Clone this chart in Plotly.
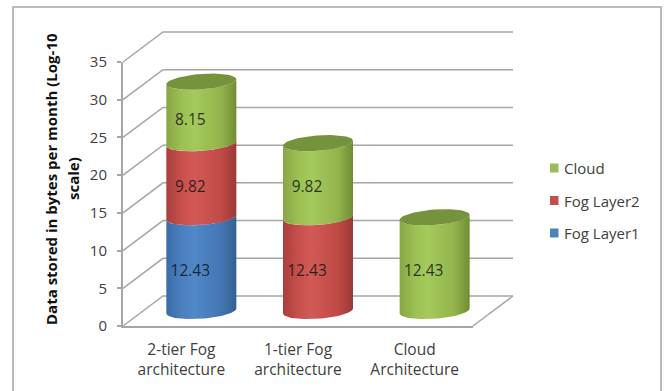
import numpy as np
import plotly.graph_objects as go

# Chart data
categories = ["2-tier Fog<br>architecture", "1-tier Fog<br>architecture", "Cloud<br>Architecture"]
fog_layer1 = [12.43, 0, 0]
fog_layer2 = [9.82, 12.43, 0]
cloud = [8.15, 9.82, 12.43]
series = [
    ("Fog Layer1", fog_layer1, ["#3a6ba6", "#4c80c0", "#5088c8", "#4476b4", "#33608f"], "#4f81bd"),
    ("Fog Layer2", fog_layer2, ["#a83f3c", "#c84f4c", "#d25a56", "#c04a47", "#9c3936"], "#c0504d"),
    ("Cloud", cloud, ["#88a646", "#9cc052", "#a5ca5c", "#93b44c", "#6f8e32"], "#9bbb59"),
]

FONT = "Open Sans"
W, H = 664, 391
FLOOR_L, FLOOR_R, FLOOR_Y, TOP_Y = 123, 473, 326, 62
DEPTH_X, DEPTH_Y = 40, 30
px_per_cat = (FLOOR_R - FLOOR_L) / 3
px_per_val = (FLOOR_Y - TOP_Y) / 35
ddx = DEPTH_X / px_per_cat   # depth offset in category units
ddy = DEPTH_Y / px_per_val   # depth offset in value units


def project(cat, val, depth):
    """Oblique projection of a point on the chart's depth axis."""
    return cat + depth * ddx, val + depth * ddy


RX = 33.3 / px_per_cat
RD = 0.27


def ring(cat, val, t):
    """Points of a cylinder cross-section around its axis."""
    x = cat + RX * np.cos(t) + RD * ddx * np.sin(t) + 0.5 * ddx
    y = val + RD * ddy * np.sin(t) + 0.5 * ddy
    return x, y


fig = go.Figure()

# The 3D marks sit on a full-page axis pair sharing the scale of the visible axes,
# because lines get clipped to their subplot and the depth runs past it.
OVER = dict(xaxis="x2", yaxis="y2", showlegend=False, hoverinfo="skip", cliponaxis=False)

# Back wall and floor grid
grid = "#a6a6a6"
xs, ys = [], []
for v in range(0, 40, 5):
    x0, y0 = project(-0.5, v, 0)
    x1, y1 = project(-0.5, v, 1)
    x2, y2 = project(2.5, v, 1)
    xs += [x0, x1, x2, None]
    ys += [y0, y1, y2, None]
fx, fy = project(2.5, 0, 0)
bx, by = project(2.5, 0, 1)
xs += [fx, bx, None]
ys += [fy, by, None]
fig.add_trace(go.Scatter(x=xs, y=ys, mode="lines", line=dict(color=grid, width=1.5), **OVER))

# Cylinder segments, stacked from the floor up
t_right = np.arctan2(RD * ddx * px_per_cat, RX * px_per_cat)
t_front = np.linspace(t_right, t_right - np.pi, 50)
for i in range(len(categories)):
    base = 0.0
    for name, values, ramp, _ in series:
        v = values[i]
        if v <= 0:
            continue
        top = base + v
        bxs, bys = ring(i, base, t_front)
        txs, tys = ring(i, top, t_front[::-1])
        fig.add_trace(go.Scatter(
            x=np.r_[bxs, txs], y=np.r_[bys, tys], mode="lines", fill="toself",
            line=dict(width=0, color=ramp[2]),
            fillgradient=dict(type="horizontal", colorscale=[
                [0, ramp[0]], [0.22, ramp[1]], [0.4, ramp[2]], [0.78, ramp[3]], [1, ramp[4]]]),
            **OVER))
        base = top
    # Top cap of the column
    cap_x, cap_y = ring(i, base, np.linspace(0, 2 * np.pi, 80))
    fig.add_trace(go.Scatter(x=cap_x, y=cap_y, mode="lines", fill="toself",
                             fillcolor="#75923c", line=dict(width=0, color="#75923c"), **OVER))

# Data labels
for i in range(len(categories)):
    base = 0.0
    for name, values, ramp, _ in series:
        v = values[i]
        if v <= 0:
            continue
        lx, ly = project(i, base + v / 2, 0.225)
        fig.add_trace(go.Scatter(x=[lx], y=[ly], mode="text", text=[f"{v:.2f}"],
                                 textfont=dict(family=FONT, size=15.5, color="rgba(15,20,25,0.85)"),
                                 **OVER))
        base += v

# Empty trace keeps the visible axis pair drawn
fig.add_trace(go.Scatter(x=[0], y=[0], mode="markers", marker=dict(opacity=0),
                         showlegend=False, hoverinfo="skip"))

# Key at the right of the plot, top entry first
key_rows_y = [168, 200.5, 233]
shapes = [dict(type="rect", xref="paper", yref="paper",
               x0=13 / W, x1=661 / W, y0=-0.2, y1=1 - 7 / H,
               line=dict(color="#a6a6a6", width=1.5), layer="below")]
annotations = [
    dict(text="<b>Data stored in bytes per month (Log-10</b>", textangle=-90,
         xref="paper", yref="paper", x=51 / W, y=1 - 179 / H, showarrow=False,
         xanchor="center", yanchor="middle", font=dict(size=15, color="#111111")),
    dict(text="<b>scale)</b>", textangle=-90,
         xref="paper", yref="paper", x=73 / W, y=1 - 179 / H, showarrow=False,
         xanchor="center", yanchor="middle", font=dict(size=15, color="#111111")),
]
for (name, _, _, swatch), row_y in zip(reversed(series), key_rows_y):
    shapes.append(dict(type="rect", xref="paper", yref="paper", x0=550 / W, x1=558.5 / W,
                       y0=1 - (row_y + 4.5) / H, y1=1 - (row_y - 4.5) / H,
                       fillcolor=swatch, line=dict(width=0)))
    annotations.append(dict(text=name, xref="paper", yref="paper", x=562 / W, y=1 - row_y / H,
                            xanchor="left", yanchor="middle", showarrow=False,
                            font=dict(size=15, color="#404040")))

fig.update_layout(
    width=W, height=H, margin=dict(l=0, r=0, t=0, b=0),
    paper_bgcolor="white", plot_bgcolor="rgba(0,0,0,0)",
    font=dict(family=FONT, size=15, color="#404040"),
    showlegend=False,
    xaxis=dict(domain=[FLOOR_L / W, FLOOR_R / W], range=[-0.5, 2.5], automargin=False,
               tickmode="array", tickvals=[0, 1, 2], ticktext=categories,
               showgrid=False, zeroline=False, showline=True, linecolor=grid, linewidth=2,
               ticks="", ticklabelstandoff=8, tickfont=dict(size=15.5, color="#404040")),
    yaxis=dict(domain=[1 - FLOOR_Y / H, 1 - TOP_Y / H], range=[0, 35], automargin=False,
               tickmode="array", tickvals=list(range(0, 40, 5)),
               showgrid=False, zeroline=False, showline=True, linecolor=grid, linewidth=2,
               ticks="outside", ticklen=4, tickcolor=grid, tickwidth=1.5,
               ticklabelstandoff=7, tickfont=dict(size=15, color="#404040")),
    xaxis2=dict(domain=[0, 1], anchor="y2", visible=False, automargin=False,
                range=[-0.5 - FLOOR_L / px_per_cat, -0.5 + (W - FLOOR_L) / px_per_cat]),
    yaxis2=dict(domain=[0, 1], anchor="x2", visible=False, automargin=False,
                range=[-(H - FLOOR_Y) / px_per_val, FLOOR_Y / px_per_val]),
    shapes=shapes,
    annotations=annotations,
)

fig.write_html("out.html")
